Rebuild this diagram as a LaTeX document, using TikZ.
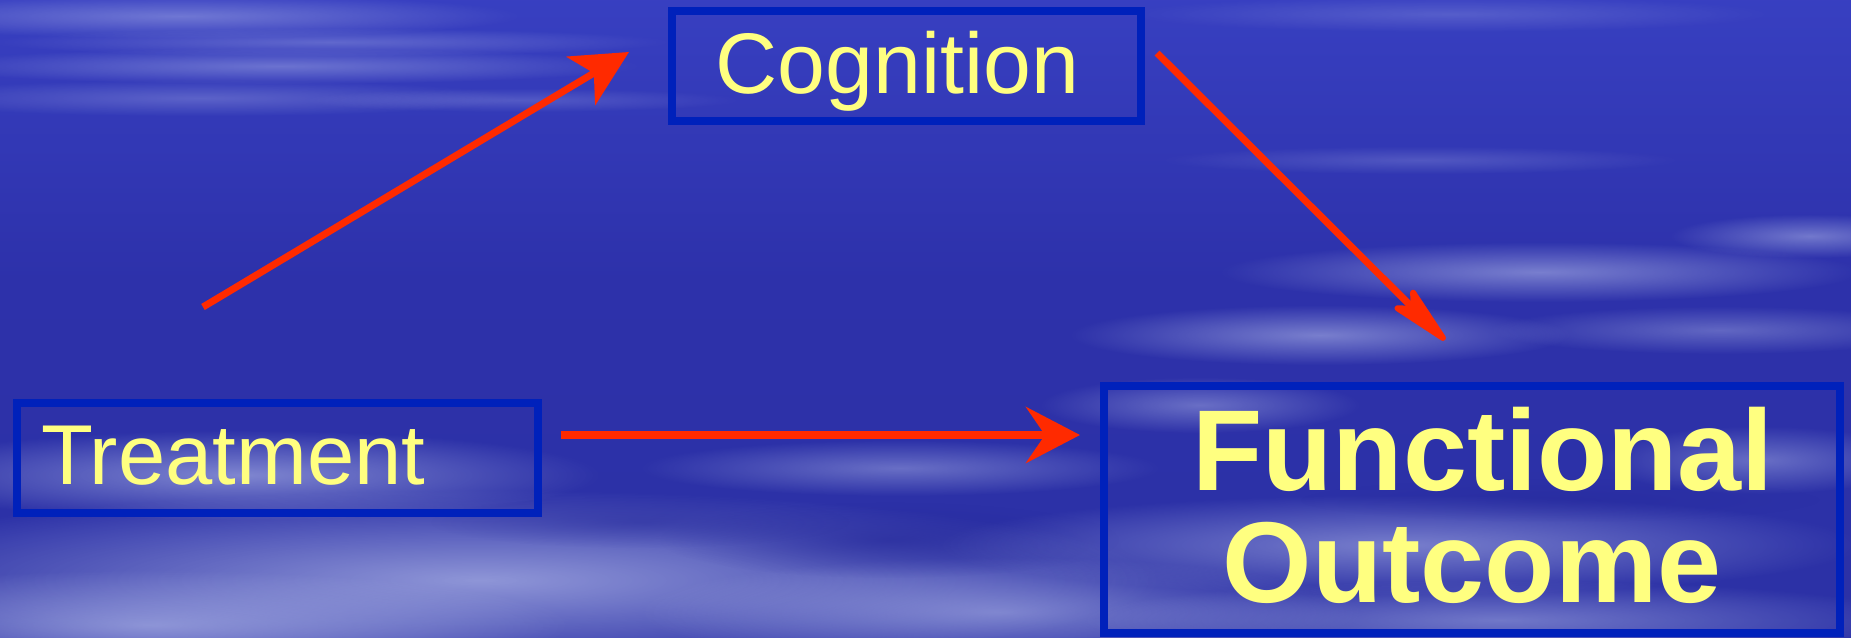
\documentclass[tikz,border=0pt]{standalone}
\usepackage{fontspec}
\setmainfont{Liberation Sans}
\usetikzlibrary{arrows.meta,fadings,calc}
\tikzfading[name=softblob, inner color=transparent!0, outer color=transparent!100]
\definecolor{bgA}{HTML}{4354DA}
\definecolor{bgB}{HTML}{3840C2}
\definecolor{bgC}{HTML}{2D31AA}
\definecolor{bgD}{HTML}{2C31A6}
\definecolor{bgE}{HTML}{3A42B2}
\pgfdeclareverticalshading{skyshade}{100bp}{color(0bp)=(bgE); color(29bp)=(bgD); color(53bp)=(bgC); color(76bp)=(bgB); color(100bp)=(bgA)}
\definecolor{boxblue}{HTML}{0021BB}
\definecolor{txtyel}{HTML}{FFFF80}
\definecolor{arrred}{HTML}{FF2A00}
\definecolor{cloudc}{HTML}{C4CCF2}
\definecolor{darkc}{HTML}{24289A}
\tikzset{
  framebox/.style={draw=boxblue, line width=8pt, inner sep=0pt},
  lbl/.style={text=txtyel, inner sep=0pt},
  arrline/.style={draw=arrred, line width=7pt},
  roundhead/.style={fill=arrred, draw=arrred, line width=6pt, line join=round},
  cloud/.style={fill=cloudc, path fading=softblob},
  darkpatch/.style={fill=darkc, path fading=softblob},
}
\begin{document}
\begin{tikzpicture}[x=1pt,y=-1pt]
\useasboundingbox (0,0) rectangle (1851,637);
% background
\shade[shading=skyshade] (0,0) rectangle (1851,637);
\begin{scope}
\clip (0,0) rectangle (1851,637);
% top-left streaks
\fill[cloud, opacity=0.40] (180,16) ellipse (340 and 22);
\fill[cloud, opacity=0.30] (330,42) ellipse (340 and 14);
\fill[cloud, opacity=0.38] (280,66) ellipse (360 and 18);
\fill[cloud, opacity=0.28] (200,98) ellipse (320 and 18);
\fill[cloud, opacity=0.22] (520,100) ellipse (220 and 12);
\fill[cloud, opacity=0.22] (1450,14) ellipse (320 and 18);
% right streaks
\fill[cloud, opacity=0.22] (1420,160) ellipse (260 and 14);
\fill[cloud, opacity=0.50] (1540,272) ellipse (320 and 30);
\fill[cloud, opacity=0.50] (1320,335) ellipse (250 and 30);
\fill[cloud, opacity=0.45] (1810,236) ellipse (140 and 22);
\fill[cloud, opacity=0.35] (1720,330) ellipse (230 and 24);
% lower clouds
\fill[cloud, opacity=0.55] (240,475) ellipse (360 and 45);
\fill[cloud, opacity=0.65] (480,580) ellipse (680 and 90);
\fill[cloud, opacity=0.55] (150,625) ellipse (420 and 55);
\fill[cloud, opacity=0.40] (900,468) ellipse (260 and 28);
\fill[cloud, opacity=0.50] (1000,612) ellipse (360 and 55);
\fill[darkpatch, opacity=0.65] (890,540) ellipse (230 and 38);
\fill[darkpatch, opacity=0.45] (640,522) ellipse (210 and 26);
% clouds inside outcome box
\fill[cloud, opacity=0.40] (1200,405) ellipse (160 and 28);
\fill[cloud, opacity=0.50] (1400,545) ellipse (460 and 50);
\fill[cloud, opacity=0.45] (1500,620) ellipse (420 and 40);
\fill[cloud, opacity=0.40] (1760,460) ellipse (160 and 34);
\fill[darkpatch, opacity=0.40] (1560,500) ellipse (260 and 22);
\end{scope}

% boxes
\node[framebox, minimum width=469pt, minimum height=110pt] (cog) at (906.5,66) {};
\node[framebox, minimum width=521pt, minimum height=110pt] (treat) at (277.5,458) {};
\node[framebox, minimum width=736pt, minimum height=247pt] (func) at (1472,509.5) {};

% labels
\node[lbl, anchor=base] (coglbl) at (897.5,93) {\fontsize{86}{90}\selectfont Cognition};
\node[lbl, anchor=base west] (treatlbl) at (41,484) {\fontsize{85}{90}\selectfont Treatment};
\node[lbl, anchor=base] (funclbl) at (1483,490) {\fontsize{115}{120}\selectfont\bfseries Functional};
\node[lbl, anchor=base] (outlbl) at (1472,602) {\fontsize{115}{120}\selectfont\bfseries Outcome};

% connector end points
\coordinate (tcS) at (203,307);
\coordinate (tcE) at (629,52);
\coordinate (cfS) at (1157,53);
\coordinate (cfE) at (1445,340);
\coordinate (tfS) at (561,435);
\coordinate (tfE) at (1080,435);

\draw[arrline, -{Stealth[length=56pt, width=56pt, inset=15pt]}] (tcS) -- (tcE);
\draw[arrline, -{Stealth[length=54pt, width=56pt, inset=19pt]}, line width=8pt] (tfS) -- (tfE);

% cognition -> outcome, with a narrow rounded head
\coordinate (cfTip) at ($(cfE)!3pt!(cfS)$);
\coordinate (cfBack) at ($(cfE)!56pt!(cfS)$);
\coordinate (cfNotch) at ($(cfE)!44pt!(cfS)$);
\coordinate (cfB1) at ($(cfBack)!11pt!90:(cfE)$);
\coordinate (cfB2) at ($(cfBack)!11pt!-90:(cfE)$);
\draw[arrline] (cfS) -- (cfNotch);
\filldraw[roundhead] (cfTip) -- (cfB1) -- (cfNotch) -- (cfB2) -- cycle;
\end{tikzpicture}
\end{document}
